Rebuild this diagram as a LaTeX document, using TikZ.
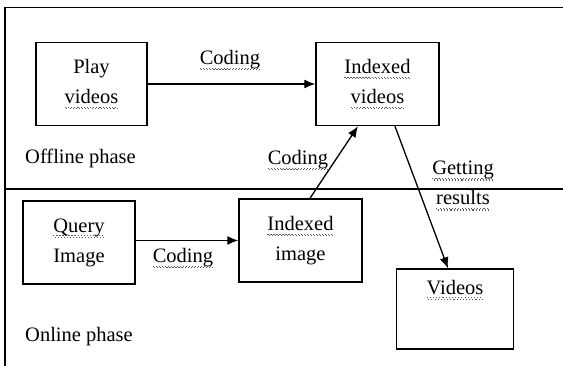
\documentclass[tikz,border=0pt]{standalone}
\usepackage{fontspec}
\setmainfont{Liberation Serif}
\usetikzlibrary{arrows.meta}
\definecolor{sqcol}{gray}{0.35}
\newsavebox\sqbox
\newcommand\sqdot{\hbox{\textcolor{sqcol}{\rule[-4.3pt]{1.1pt}{1.1pt}}\kern0.4pt\textcolor{sqcol}{\rule[-5.6pt]{1.1pt}{1.1pt}}\kern0.4pt}}
\newcommand\squig[1]{\sbox\sqbox{#1}\rlap{\hbox to \wd\sqbox{\xleaders\sqdot\hfill}}\usebox\sqbox}
\begin{document}
\begin{tikzpicture}[x=1pt,y=-1pt,
  txt/.style={font=\fontsize{20.5}{30}\selectfont, inner sep=0pt, align=center},
  box/.style={txt, draw, line width=1.5pt},
  arr/.style={line width=1.3pt, -{Latex[length=11pt,width=9pt]}}]
\useasboundingbox (0,0) rectangle (563,366);
\fill[white] (0,0) rectangle (563,366);
\begin{scope}
\clip (0,0) rectangle (563,366);
\draw[line width=1.6pt] (5,7.5) rectangle (600,420);
\draw[line width=1.6pt] (5,189) -- (600,189);
\end{scope}
\node[box, minimum width=111pt, minimum height=83pt] (play) at (91.5,84) {Play\\\squig{videos}};
\node[box, minimum width=123pt, minimum height=83pt] (idxv) at (377.5,84) {\squig{Indexed}\\\squig{videos}};
\node[box, minimum width=112pt, minimum height=83pt] (query) at (79,242.5) {\squig{Query}\\Image};
\node[box, minimum width=123pt, minimum height=83pt] (idxi) at (300.5,240.5) {\squig{Indexed}\\image};
\node[box, minimum width=117pt, minimum height=80pt] (vid) at (455,309) {\squig{Videos}\\[14pt]\mbox{}};
\node[txt, anchor=west] (off) at (25,158) {Offline phase};
\node[txt, anchor=west] (on) at (25,337) {Online phase};
\node[txt] (c1) at (230,60) {\squig{Coding}};
\node[txt] (c2) at (298,160) {\squig{Coding}};
\node[txt] (c3) at (183,258) {\squig{Coding}};
\node[txt] (gr) at (463,186) {\squig{Getting}\\\squig{results}};
\draw[arr] (play.east) -- (idxv.west);
\draw[arr] (query.east |- idxi.west) -- (idxi.west);
\draw[arr] ([xshift=9.5pt]idxi.north) -- ([xshift=-19.5pt]idxv.south);
\draw[arr] ([xshift=17.5pt]idxv.south) -- ([xshift=-7pt]vid.north);
\end{tikzpicture}
\end{document}
